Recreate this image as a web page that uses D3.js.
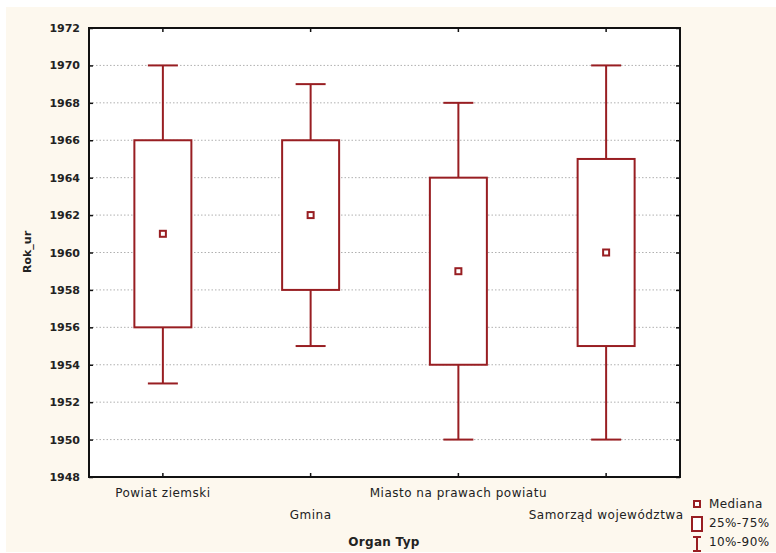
<!DOCTYPE html>
<html><head><meta charset="utf-8">
<script src="https://cdn.jsdelivr.net/npm/d3@7"></script>
<style>body{margin:0;background:#fff}svg{display:block}text{font-family:"DejaVu Sans",Verdana,sans-serif;}</style>
</head><body><svg id="c" width="776" height="553"></svg>
<script>
const categories = ["Powiat ziemski","Gmina","Miasto na prawach powiatu","Samorząd województwa"];
const p10 = [1953,1955,1950,1950];
const q25 = [1956,1958,1954,1955];
const median = [1961,1962,1959,1960];
const q75 = [1966,1966,1964,1965];
const p90 = [1970,1969,1968,1970];
const yTicks = [1948,1950,1952,1954,1956,1958,1960,1962,1964,1966,1968,1970,1972];
const legendLabels = ["Mediana","25%-75%","10%-90%"];

const red = "#981e22";
const svg = d3.select("#c");
svg.append("rect").attr("x",6).attr("y",7).attr("width",770).attr("height",545).attr("fill","#fdf8ee");
const m = {l:89, t:28, r:680, b:477};
svg.append("rect").attr("x",m.l).attr("y",m.t).attr("width",m.r-m.l).attr("height",m.b-m.t).attr("fill","#fff");

const x = d3.scaleBand().domain(categories).range([m.l,m.r]);
const y = d3.scaleLinear().domain([1948,1972]).range([m.b,m.t]);

// grid
svg.append("g").selectAll("line").data(yTicks.slice(1,-1)).join("line")
  .attr("x1",m.l).attr("x2",m.r).attr("y1",d=>y(d)).attr("y2",d=>y(d))
  .attr("stroke","#b0b0b0").attr("stroke-dasharray","1.5,2").attr("stroke-width",1);

// axes
const axL = svg.append("g").attr("transform",`translate(${m.l},0)`).call(d3.axisRight(y).tickValues(yTicks).tickSize(4).tickFormat(""));
const axR = svg.append("g").attr("transform",`translate(${m.r},0)`).call(d3.axisLeft(y).tickValues(yTicks).tickSize(4).tickFormat(""));
const axT = svg.append("g").attr("transform",`translate(0,${m.t})`).call(d3.axisBottom(x).tickSize(4).tickFormat(""));
const axB = svg.append("g").attr("transform",`translate(0,${m.b})`).call(d3.axisTop(x).tickSize(4).tickFormat(""));
[axL,axR,axT,axB].forEach(a=>{a.select(".domain").remove();a.selectAll("line").attr("stroke","#111").attr("stroke-width",1.5);});
svg.append("rect").attr("x",m.l).attr("y",m.t).attr("width",m.r-m.l).attr("height",m.b-m.t)
  .attr("fill","none").attr("stroke","#111").attr("stroke-width",2);

// y tick labels
svg.append("g").selectAll("text").data(yTicks).join("text")
  .attr("x",m.l-9).attr("y",d=>y(d)+4).attr("text-anchor","end")
  .attr("font-size",11).attr("font-weight","bold").attr("fill","#222").text(d=>d);

// x labels staggered
svg.append("g").selectAll("text").data(categories).join("text")
  .attr("x",d=>x(d)+x.bandwidth()/2).attr("y",(d,i)=>i%2===0?497:519).attr("text-anchor","middle")
  .attr("font-size",12).attr("letter-spacing",0.5).attr("fill","#222").text(d=>d);

svg.append("text").attr("x",384).attr("y",546).attr("text-anchor","middle")
  .attr("font-size",12).attr("letter-spacing",0.3).attr("font-weight","bold").attr("fill","#222").text("Organ Typ");
svg.append("text").attr("transform","translate(31,252) rotate(-90)").attr("text-anchor","middle")
  .attr("font-size",11).attr("font-weight","bold").attr("fill","#222").text("Rok_ur");

// boxes
const bw = 57, cw = 30;
const g = svg.append("g").attr("stroke",red).attr("stroke-width",2).attr("fill","none");
categories.forEach((c,i)=>{
  const cx = x(c)+x.bandwidth()/2;
  g.append("line").attr("x1",cx).attr("x2",cx).attr("y1",y(p90[i])).attr("y2",y(q75[i]));
  g.append("line").attr("x1",cx).attr("x2",cx).attr("y1",y(q25[i])).attr("y2",y(p10[i]));
  g.append("line").attr("x1",cx-cw/2).attr("x2",cx+cw/2).attr("y1",y(p90[i])).attr("y2",y(p90[i]));
  g.append("line").attr("x1",cx-cw/2).attr("x2",cx+cw/2).attr("y1",y(p10[i])).attr("y2",y(p10[i]));
  g.append("rect").attr("x",cx-bw/2).attr("y",y(q75[i])).attr("width",bw).attr("height",y(q25[i])-y(q75[i])).attr("fill","#fff");
  g.append("rect").attr("x",cx-3).attr("y",y(median[i])-3).attr("width",6).attr("height",6).attr("fill","#fff");
});

// legend
const lg = svg.append("g");
lg.append("rect").attr("x",694).attr("y",501).attr("width",6).attr("height",6).attr("fill","#fff").attr("stroke",red).attr("stroke-width",2);
lg.append("rect").attr("x",692).attr("y",517).attr("width",10).attr("height",14).attr("fill","#fff").attr("stroke",red).attr("stroke-width",2);
lg.append("line").attr("x1",697).attr("x2",697).attr("y1",537).attr("y2",551).attr("stroke",red).attr("stroke-width",2);
lg.append("line").attr("x1",693).attr("x2",701).attr("y1",537).attr("y2",537).attr("stroke",red).attr("stroke-width",2);
lg.append("line").attr("x1",693).attr("x2",701).attr("y1",551).attr("y2",551).attr("stroke",red).attr("stroke-width",2);
lg.selectAll("text").data(legendLabels).join("text")
  .attr("x",709).attr("y",(d,i)=>[508,527,546][i]).attr("font-size",12).attr("letter-spacing",0.4).attr("fill","#222").text(d=>d);
</script></body></html>
